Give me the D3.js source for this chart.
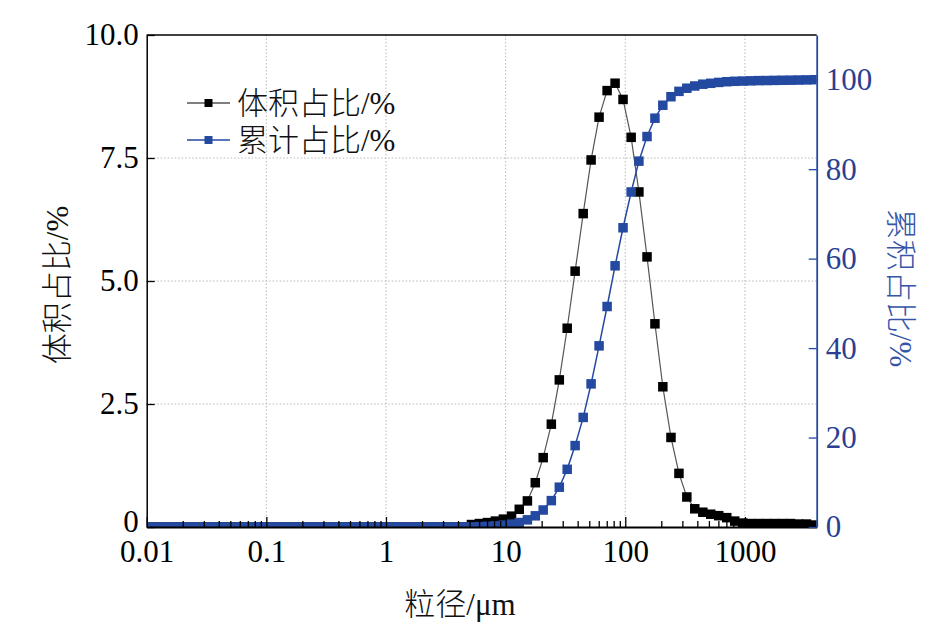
<!DOCTYPE html>
<html><head><meta charset="utf-8">
<script src="https://cdn.jsdelivr.net/npm/d3@7"></script>
<style>
html,body{margin:0;padding:0;background:#fff;}
svg{display:block;}
</style></head>
<body>
<svg id="chart" width="946" height="631"></svg>
<script>
// particle size bins (µm)
const sizes = [
0.0112,0.0130,0.0152,0.0177,0.0206,0.0241,0.0281,0.0327,0.0381,0.0445,0.0518,0.0604,0.0705,0.0822,
0.0958,0.112,0.130,0.152,0.177,0.206,0.241,0.281,0.327,0.381,0.445,0.518,0.604,0.705,0.822,
0.958,1.12,1.30,1.52,1.77,2.06,2.41,2.81,3.27,3.81,4.45,5.18,6.04,7.05,8.22,
9.58,11.2,13.0,15.2,17.7,20.6,24.1,28.1,32.7,38.1,44.5,51.8,60.4,70.5,82.2,
95.8,112,130,152,177,206,241,281,327,381,445,518,604,705,822,
958,1117,1302,1518,1770,2064,2406,2805,3271,3814
];
// volume fraction (%)
const volume = [
0,0,0,0,0,0,0,0,0,0,0,0,0,0,
0,0,0,0,0,0,0,0,0,0,0,0,0,0,0,
0,0,0,0,0,0,0,0,0,0,0,0.05,0.07,0.09,0.12,
0.16,0.22,0.36,0.53,0.90,1.41,2.09,2.99,4.04,5.20,6.37,7.46,8.33,8.87,9.02,
8.69,7.92,6.81,5.49,4.13,2.85,1.82,1.09,0.61,0.37,0.30,0.26,0.23,0.19,0.12,
0.08,0.07,0.07,0.07,0.07,0.07,0.07,0.06,0.06,0.04
];
// cumulative fraction (%)
const cumulative = [
0,0,0,0,0,0,0,0,0,0,0,0,0,0,
0,0,0,0,0,0,0,0,0,0,0,0,0,0,0,
0,0,0,0,0,0,0,0,0,0,0,0.03,0.08,0.15,0.27,
0.43,0.65,1.0,1.6,2.5,3.8,5.9,8.9,12.9,18.2,24.5,32.0,40.5,49.3,58.4,
66.9,74.9,81.8,87.3,91.4,94.3,96.2,97.4,98.1,98.6,99.0,99.2,99.4,99.55,99.65,
99.7,99.75,99.8,99.82,99.85,99.88,99.9,99.93,99.96,100
];
const xTicks = [0.01,0.1,1,10,100,1000];
const xTickLabels = ["0.01","0.1","1","10","100","1000"];
const yLeftTicks = [0,2.5,5,7.5,10];
const yLeftLabels = ["0","2.5","5.0","7.5","10.0"];
const yRightTicks = [0,20,40,60,80,100];
const seriesNames = ["体积占比/%","累计占比/%"];

const svg = d3.select("#chart");
const L = 146.7, R = 816.7, T = 35, B = 527;
const BLUE = "#2449a0", BLUE_TXT = "#2a3f90";
const numFont = "'Liberation Serif','Times New Roman',serif";
const cjkFont = "'Liberation Serif','Noto Sans CJK SC',serif";

const x = d3.scaleLog().domain([0.01, Math.pow(10,3.6)]).range([L, R]);
const yL = d3.scaleLinear().domain([0,10]).range([B, T]);
const yR = d3.scaleLinear().domain([0,110]).range([B, T]);

// grid
const grid = svg.append("g").attr("stroke","#b8b8b8").attr("stroke-width",1).attr("stroke-dasharray","1.5,2");
grid.selectAll("line.v").data(xTicks.slice(1)).join("line")
  .attr("x1",d=>x(d)).attr("x2",d=>x(d)).attr("y1",T).attr("y2",B);
grid.selectAll("line.h").data([2.5,5,7.5]).join("line")
  .attr("x1",L).attr("x2",R).attr("y1",d=>yL(d)).attr("y2",d=>yL(d));

// clip
svg.append("clipPath").attr("id","clip").append("rect")
  .attr("x",L).attr("y",T).attr("width",R-L).attr("height",B-T);

const data = sizes.map((s,i)=>({s, v:volume[i], c:cumulative[i]}));
const plot = svg.append("g").attr("clip-path","url(#clip)");
const ms = 9.5;

plot.append("path").datum(data)
  .attr("fill","none").attr("stroke","#555").attr("stroke-width",1.2)
  .attr("d", d3.line().x(d=>x(d.s)).y(d=>yL(d.v)));
plot.selectAll("rect.v").data(data).join("rect")
  .attr("x",d=>x(d.s)-ms/2).attr("y",d=>yL(d.v)-ms/2)
  .attr("width",ms).attr("height",ms).attr("fill","#000");

plot.append("path").datum(data)
  .attr("fill","none").attr("stroke",BLUE).attr("stroke-width",1.5)
  .attr("d", d3.line().x(d=>x(d.s)).y(d=>yR(d.c)));
plot.selectAll("rect.c").data(data).join("rect")
  .attr("x",d=>x(d.s)-ms/2).attr("y",d=>yR(d.c)-ms/2)
  .attr("width",ms).attr("height",ms).attr("fill",BLUE);

// top border
svg.append("line").attr("x1",L).attr("x2",R).attr("y1",T).attr("y2",T)
  .attr("stroke","#000").attr("stroke-width",1.5);

// x axis
const minor = [];
for (let e=-2;e<=3;e++) for (let m=2;m<=9;m++){ const v=m*Math.pow(10,e); if (v<Math.pow(10,3.6)) minor.push(v); }
const gxMinor = svg.append("g").attr("transform",`translate(0,${B})`)
  .call(d3.axisBottom(x).tickValues(minor).tickSize(-6).tickFormat(""));
gxMinor.select(".domain").remove();
gxMinor.selectAll("line").attr("stroke","#000").attr("stroke-width",1.3);
const gx = svg.append("g").attr("transform",`translate(0,${B})`)
  .call(d3.axisBottom(x).tickValues(xTicks).tickSize(-10).tickSizeOuter(0).tickPadding(13)
    .tickFormat((d,i)=>xTickLabels[i]));
gx.select(".domain").attr("stroke","#000").attr("stroke-width",1.8);
gx.selectAll("line").attr("stroke","#000").attr("stroke-width",1.3);
gx.selectAll("text").attr("font-family",numFont).attr("font-size",31).attr("fill","#000");

// left axis
const gl = svg.append("g").attr("transform",`translate(${L},0)`)
  .call(d3.axisLeft(yL).tickValues(yLeftTicks).tickSize(-8).tickSizeOuter(0).tickPadding(8)
    .tickFormat((d,i)=>yLeftLabels[i]));
gl.select(".domain").attr("stroke","#000").attr("stroke-width",1.5);
gl.selectAll("line").attr("stroke","#000").attr("stroke-width",1.3);
gl.selectAll("text").attr("font-family",numFont).attr("font-size",31).attr("fill","#000");
gl.selectAll(".tick").filter(d=>d===0).select("text").attr("dy","0.14em");

// right axis
const gr = svg.append("g").attr("transform",`translate(${R},0)`)
  .call(d3.axisRight(yR).tickValues(yRightTicks).tickSize(-8).tickSizeOuter(0).tickPadding(9));
gr.select(".domain").attr("stroke",BLUE).attr("stroke-width",1.8);
gr.selectAll("line").attr("stroke",BLUE).attr("stroke-width",1.3);
gr.selectAll("text").attr("font-family",numFont).attr("font-size",31).attr("fill",BLUE_TXT);

// axis titles
svg.append("text").attr("transform","translate(57,285) rotate(-90)")
  .attr("text-anchor","middle").attr("dominant-baseline","central")
  .attr("font-family",cjkFont).attr("font-size",31).attr("font-weight",300).attr("fill","#111")
  .text("体积占比/%");
svg.append("text").attr("transform","translate(900,288) rotate(90)")
  .attr("text-anchor","middle").attr("dominant-baseline","central")
  .attr("font-family",cjkFont).attr("font-size",31).attr("font-weight",300).attr("fill","#3556a8")
  .text("累积占比/%");
svg.append("text").attr("x",460).attr("y",604)
  .attr("text-anchor","middle").attr("dominant-baseline","central")
  .attr("font-family",cjkFont).attr("font-size",31).attr("font-weight",300).attr("fill","#111")
  .text("粒径/μm");

// legend
const leg = svg.append("g");
const legRows = [{name:seriesNames[0], color:"#555", fill:"#000", y:103},
                 {name:seriesNames[1], color:BLUE, fill:BLUE, y:140}];
legRows.forEach(r=>{
  leg.append("line").attr("x1",187).attr("x2",230).attr("y1",r.y).attr("y2",r.y)
    .attr("stroke",r.color).attr("stroke-width",1.5);
  leg.append("rect").attr("x",208.5-4).attr("y",r.y-4).attr("width",8).attr("height",8).attr("fill",r.fill);
  leg.append("text").attr("x",237).attr("y",r.y).attr("dominant-baseline","central")
    .attr("font-family",cjkFont).attr("font-size",31).attr("font-weight",300).attr("fill","#111")
    .text(r.name);
});
</script>
</body></html>
